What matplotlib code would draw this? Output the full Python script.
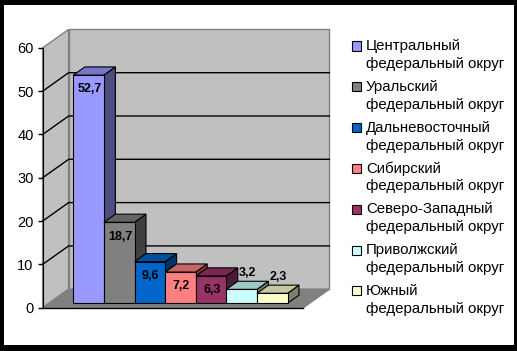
import numpy as np
import matplotlib.pyplot as plt
from matplotlib.patches import Polygon, Rectangle

plt.rcParams['font.family'] = ['Liberation Sans', 'DejaVu Sans']

districts = ['Центральный\nфедеральный округ', 'Уральский\nфедеральный округ',
             'Дальневосточный\nфедеральный округ', 'Сибирский\nфедеральный округ',
             'Северо-Западный\nфедеральный округ', 'Приволжский\nфедеральный округ',
             'Южный\nфедеральный округ']
values = [52.7, 18.7, 9.6, 7.2, 6.3, 3.2, 2.3]
labels = ['52,7', '18,7', '9,6', '7,2', '6,3', '3,2', '2,3']
colors = ['#9999FF', '#808080', '#0066CC', '#FF8080', '#993366', '#CCFFFF', '#FFFFCC']
yticks = [0, 10, 20, 30, 40, 50, 60]

# oblique projection: depth 0..1 -> (DX, DY) in data units
DX, DY = 0.85, 4.27
d0, d1 = 0.24, 0.68      # bar front / back depth
xL, xR = -0.80, 7.72     # floor extent at depth 0
ymax = 60

def shade(c, k):
    r, g, b = [int(c[i:i + 2], 16) / 255 for i in (1, 3, 5)]
    return (r * k, g * k, b * k)

fig = plt.figure(figsize=(5.17, 3.51), dpi=100, facecolor='black')
fig.patches.append(Rectangle((4 / 517, 6 / 351), 510 / 517, 340 / 351,
                             transform=fig.transFigure, facecolor='white',
                             edgecolor='none', zorder=-5))
ax = fig.add_axes([0, 0, 1, 1])
ax.set_zorder(1)
ax.set_facecolor('none')
ax.set_xlim(-2.193, 14.703)
ax.set_ylim(-10.0, 71.06)

# walls and floor
left_wall = [(xL, 0), (xL + DX, DY), (xL + DX, ymax + DY), (xL, ymax)]
back_wall = [(xL + DX, DY), (xR + DX, DY), (xR + DX, ymax + DY), (xL + DX, ymax + DY)]
floor = [(xL, 0), (xR, 0), (xR + DX, DY), (xL + DX, DY)]
ax.add_patch(Polygon(left_wall, closed=True, facecolor='#C0C0C0', edgecolor='#808080', lw=1, zorder=1))
ax.add_patch(Polygon(back_wall, closed=True, facecolor='#C0C0C0', edgecolor='#808080', lw=1, zorder=1))
for v in yticks[1:-1]:
    ax.plot([xL, xL + DX, xR + DX], [v, v + DY, v + DY], color='black', lw=1, zorder=2)
ax.add_patch(Polygon(floor, closed=True, facecolor='#808080', edgecolor='#808080', lw=1, zorder=2))
ax.plot([xL, xR], [0, 0], color='black', lw=1, zorder=3)

# bars
bw = 1.0
for i, (v, c) in enumerate(zip(values, colors)):
    x0 = i + d0 * DX
    y0 = d0 * DY
    bx, by = (d1 - d0) * DX, (d1 - d0) * DY
    side = [(x0 + bw, y0), (x0 + bw + bx, y0 + by), (x0 + bw + bx, y0 + v + by), (x0 + bw, y0 + v)]
    top = [(x0, y0 + v), (x0 + bw, y0 + v), (x0 + bw + bx, y0 + v + by), (x0 + bx, y0 + v + by)]
    z = 4 + i
    ax.add_patch(Polygon(side, closed=True, facecolor=shade(c, 0.5), edgecolor='black', lw=0.8, zorder=z))
    ax.add_patch(Polygon(top, closed=True, facecolor=shade(c, 0.78), edgecolor='black', lw=0.8, zorder=z))
    ax.bar(x0, v, width=bw, bottom=y0, align='edge', color=c, edgecolor='black', lw=0.8, zorder=z)

for i, (v, t) in enumerate(zip(values, labels)):
    if v > 5:
        ax.text(i + 0.5 + d0 * DX + 0.03, v + d0 * DY - 3.3, t, ha='center', va='center',
                fontsize=9, fontweight='bold', zorder=20)
    else:
        ax.text(i + 0.5 + (d0 + d1) / 2 * DX, v + d1 * DY + 2.0, t, ha='center', va='center',
                fontsize=9, fontweight='bold', zorder=20)

# value axis
for s in ['top', 'right', 'bottom']:
    ax.spines[s].set_visible(False)
ax.spines['left'].set_position(('data', xL))
ax.spines['left'].set_bounds(0, ymax)
ax.spines['left'].set_zorder(3)
ax.set_xticks([])
ax.set_yticks(yticks)
ax.tick_params(axis='y', direction='out', length=3.5, width=1, pad=3, labelsize=10.5)

# legend
for i, (name, c) in enumerate(zip(districts, colors)):
    yc = 46 + i * 40.8
    fig.patches.append(Rectangle((352 / 517, 1 - (yc + 4.5) / 351), 9 / 517, 9 / 351,
                                 transform=fig.transFigure, facecolor=c,
                                 edgecolor='black', lw=0.8, zorder=5))
    first, second = name.split('\n')
    fig.text(366 / 517, 1 - yc / 351, first, ha='left', va='center', fontsize=10.8)
    fig.text(366 / 517, 1 - (yc + 18) / 351, second, ha='left', va='center', fontsize=10.8)

fig.savefig('out.png', dpi=100, facecolor='black')
